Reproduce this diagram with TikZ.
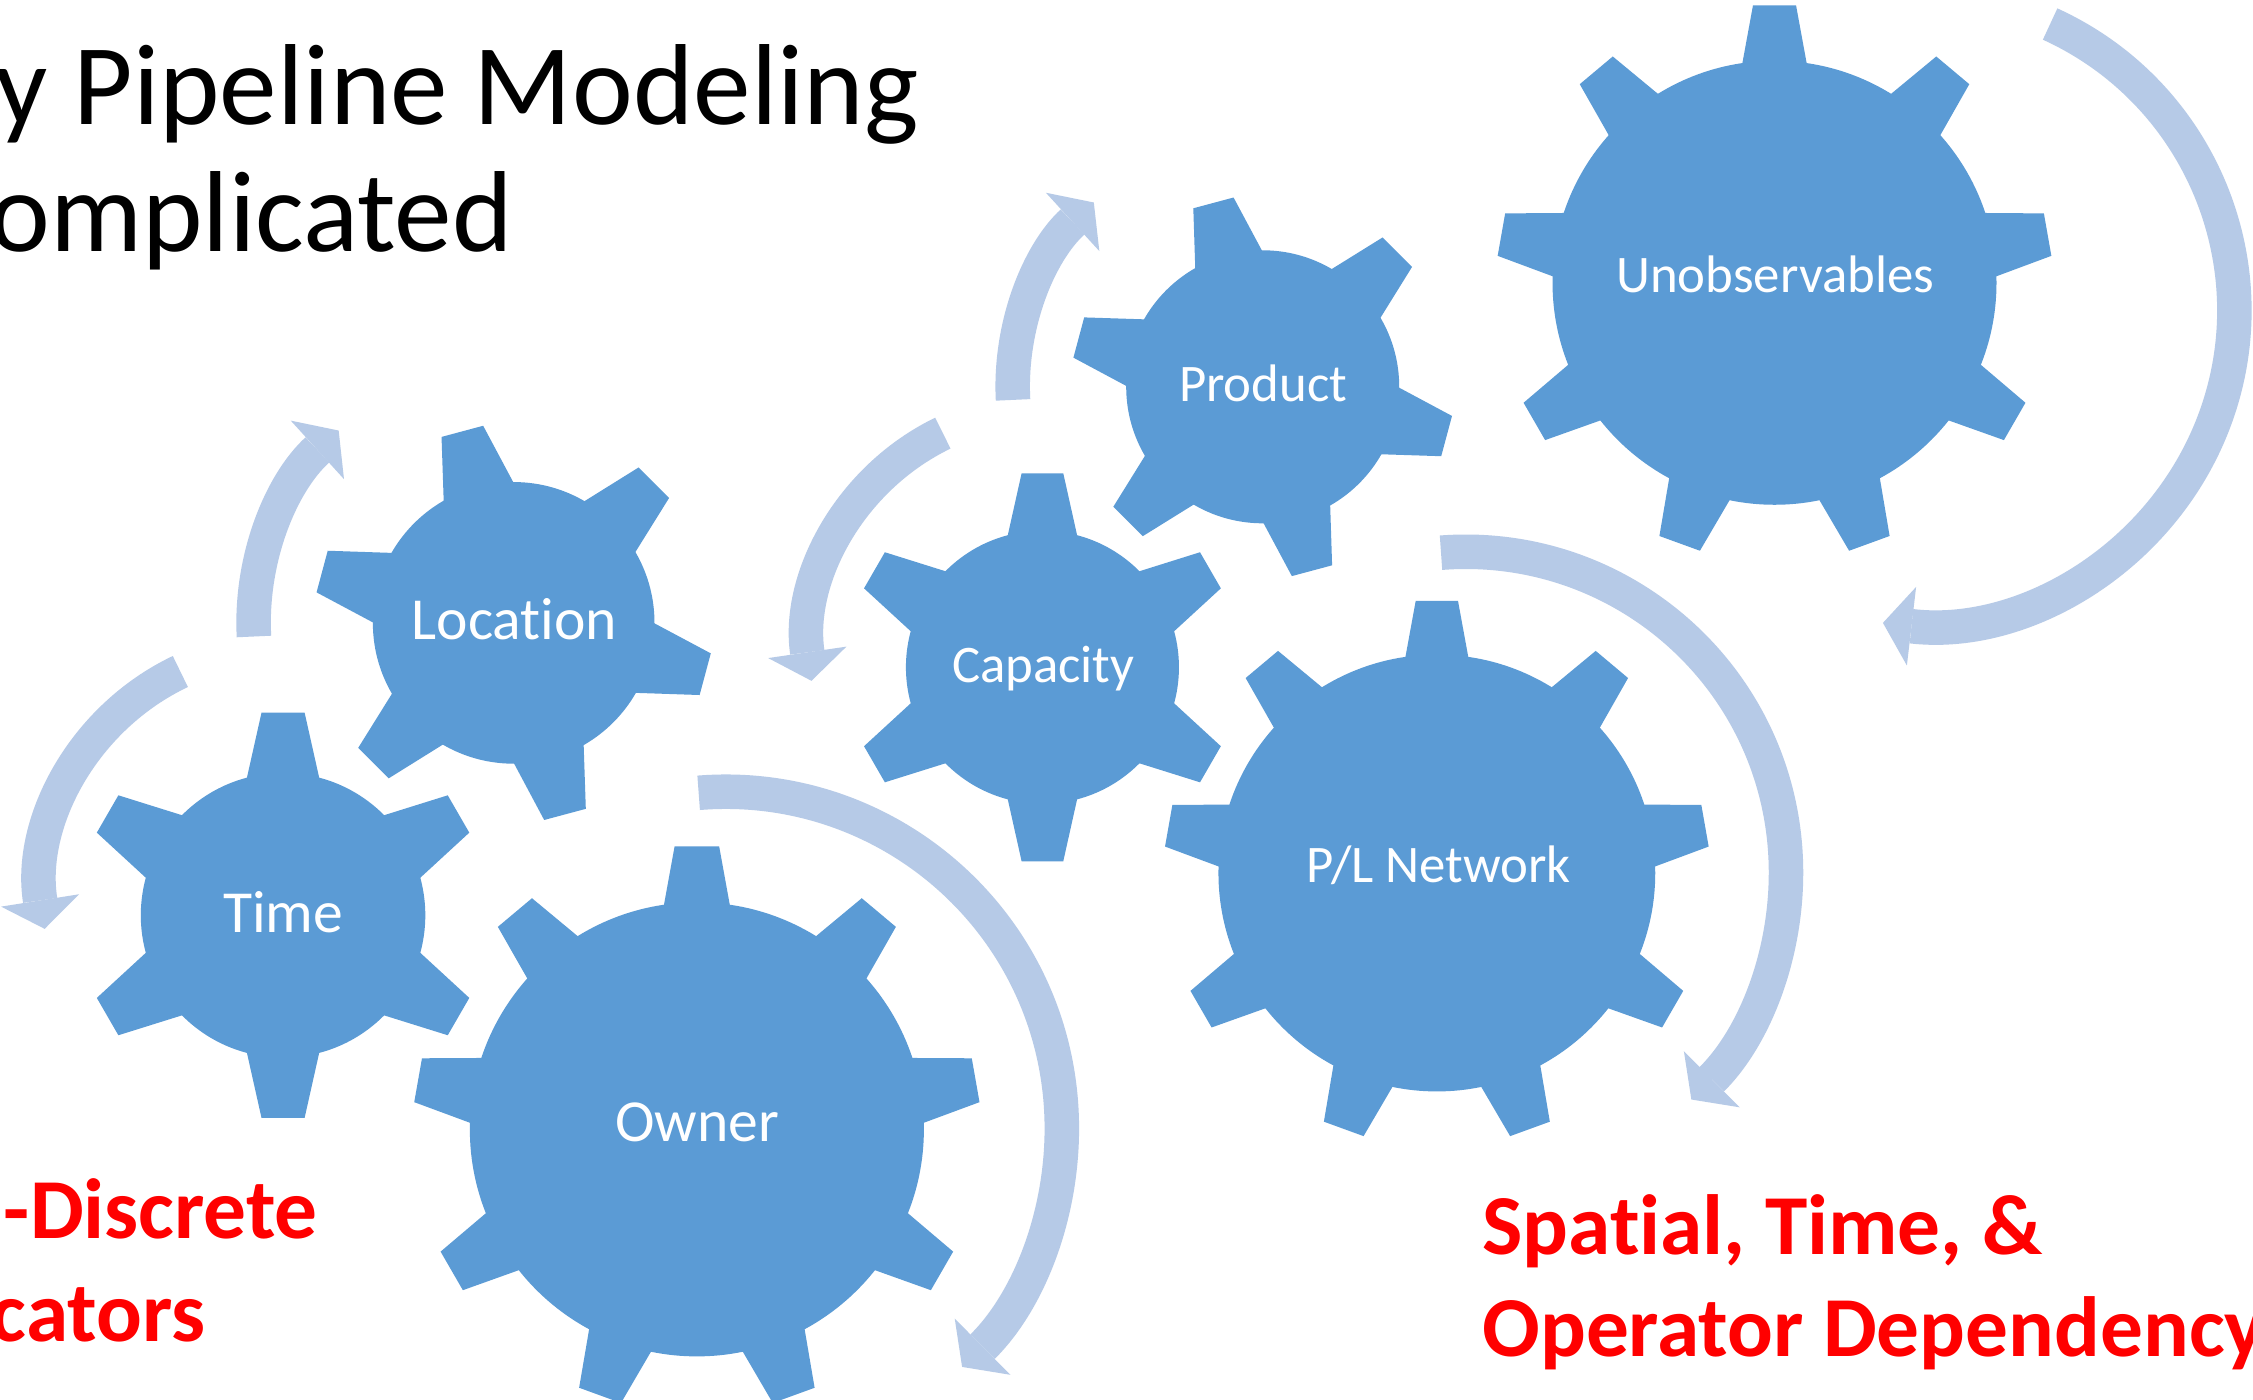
\documentclass[tikz,border=0pt]{standalone}
\usepackage{fontspec}
\setmainfont{Carlito}[Ligatures=NoCommon]
\usetikzlibrary{arrows.meta}
\definecolor{gearblue}{RGB}{91,155,213}
\definecolor{arrowblue}{RGB}{182,202,231}

\begin{document}
\begin{tikzpicture}[x=0.01cm,y=0.01cm,
    gear/.style={fill=gearblue},
    spin/.style={draw=arrowblue,line width=0.24cm,
      -{Triangle[width=0.55cm,length=0.2cm,line width=0pt]}},
    cogtext/.style={text=white,inner sep=0pt,anchor=base,
      font=\fontsize{11.8}{14}\selectfont},
    cogsmall/.style={cogtext,font=\fontsize{10.45}{12.5}\selectfont},
    title/.style={inner sep=0pt,anchor=base west,
      font=\fontsize{22.8}{27}\selectfont},
    note/.style={text=red,inner sep=0pt,anchor=base west,
      font=\bfseries\fontsize{16.9}{20.5}\selectfont}]
  \fill[white] (0,0) rectangle (1568,-974.3);
  \useasboundingbox (0,0) rectangle (1568,-974.3);

  \node[title] (head1) at (-4,-86.3) {y Pipeline Modeling};
  \node[title] (head2) at (-8,-175.1) {omplicated};

  \foreach \cx/\cy/\n/\off/\rb/\rt/\wt/\wb in {
      197/637/6/90/99/141/15/25,
      357.5/433.5/6/105/98/138/15/25,
      725.5/464.4/6/90/95/135/14.5/24,
      878.8/269.2/6/105/95/132.5/14.5/24,
      485/786/9/90/158/197/15.5/22.5,
      1000/607.6/9/90/152/189.5/14.7/21.5,
      1235/196.8/9/90/154.5/193/15/22}{
    \fill[gear] (\cx,-\cy) circle (\rb);
    \foreach \k [evaluate=\k as \ang using \off+360/\n*\k] in {1,...,\n}
      \fill[gear,shift={(\cx,-\cy)},rotate=\ang]
        (\rb-16,-\wb-3) -- (\rt,-\wt) -- (\rt,\wt) -- (\rb-16,\wb+3) -- cycle;
  }

  \draw[spin] (198,-620) ++(115.4:169) arc (115.4:189:169);
  \draw[spin] (357.5,-433.5) ++(183:181) arc (183:132.3:181);
  \draw[spin] (728,-450) ++(115.8:165) arc (115.8:188.3:165);
  \draw[spin] (878.8,-269.2) ++(183:174) arc (183:132.5:174);
  \draw[spin] (505,-785) ++(94.6:234) arc (94.6:-45.3:234);
  \draw[spin] (1020,-607) ++(94.4:223) arc (94.4:-45.2:223);
  \draw[spin] (1336,-216) ++(65.5:219) arc (65.5:-96.7:219);

  \node[cogtext] (time) at (197,-649.1) {Time};
  \node[cogtext] (location) at (358.1,-445.3) {Location};
  \node[cogtext] (owner) at (485.3,-794.5) {Owner};
  \node[cogsmall] (capacity) at (726.1,-474.9) {Capacity};
  \node[cogsmall] (product) at (879.1,-279.5) {Product};
  \node[cogsmall] (network) at (1001.3,-614.2) {P/L Network};
  \node[cogsmall] (unobs) at (1235.5,-203.5) {Unobservables};

  \node[note] (left1) at (2,-861.6) {-Discrete};
  \node[note] (left2) at (-7,-933.7) {cators};
  \node[note] (right1) at (1031,-873.3) {Spatial, Time, \&};
  \node[note] (right2) at (1031,-944) {Operator Dependency};
\end{tikzpicture}
\end{document}
